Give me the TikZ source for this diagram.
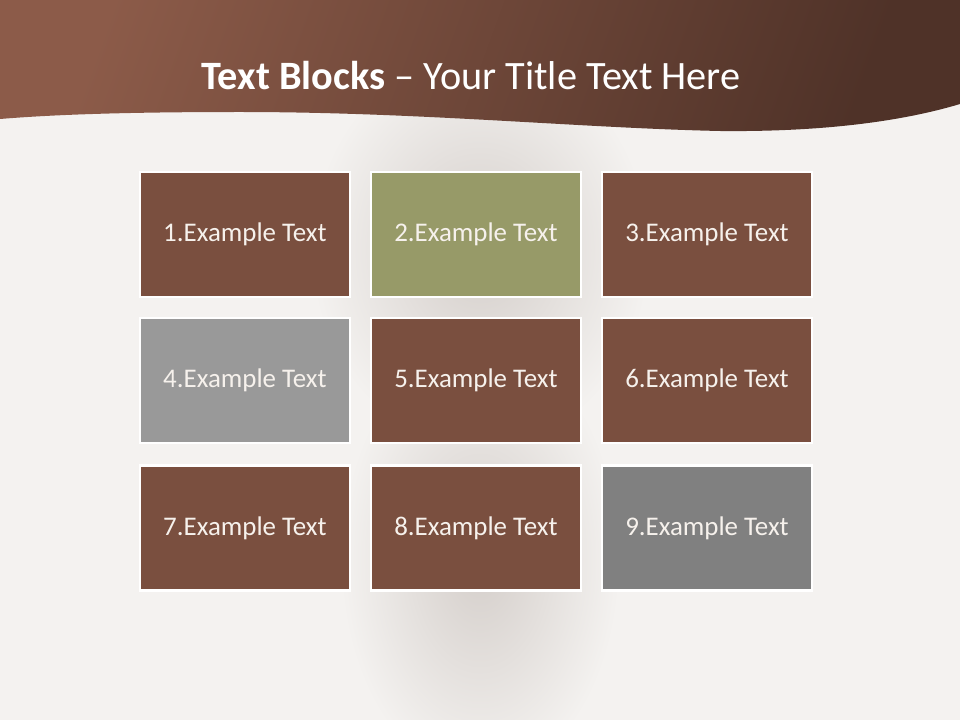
\documentclass[tikz,border=0pt]{standalone}
\usepackage{fontspec}
\setmainfont{Carlito}
\usetikzlibrary{shadings}
\definecolor{bg}{HTML}{F4F2F0}
\definecolor{bandL}{HTML}{8C5B49}
\definecolor{bandR}{HTML}{4F3228}
\definecolor{boxbrown}{HTML}{7A4F3F}
\definecolor{boxolive}{HTML}{979A68}
\definecolor{boxgreyA}{HTML}{999999}
\definecolor{boxgreyB}{HTML}{808080}
\definecolor{txt}{HTML}{F6F1EC}
\definecolor{shade}{HTML}{D4CECA}
\tikzset{
  blk/.style={draw=white, line width=2pt, minimum width=157.5pt, minimum height=93.75pt,
    inner sep=0pt, text=txt, font=\fontsize{20.2}{22}\selectfont},
}
\begin{document}
\begin{tikzpicture}[x=0.75pt,y=-0.75pt]
\useasboundingbox (0,0) rectangle (960,720);
\fill[bg] (0,0) rectangle (960,720);
% soft central shadow
\shade[inner color=shade, outer color=bg] (480,250) ellipse (170 and 200);
\shade[inner color=shade, outer color=bg] (480,560) ellipse (140 and 220);
% brown band
\shade[left color=bandL, right color=bandR, shading angle=70]
  (0,0) -- (960,0) -- (960,104)
  .. controls (900,122) and (820,132) .. (720,131)
  .. controls (580,128) and (420,112) .. (240,112)
  .. controls (140,112) and (60,114) .. (0,119) -- cycle;
\node[text=white, font=\fontsize{30.2}{33}\selectfont] (title) at (471,76)
  {\textbf{Text Blocks} – Your Title Text Here};
% blocks
\node[blk, fill=boxbrown] (b1) at (245,234.5) {1.Example Text};
\node[blk, fill=boxolive] (b2) at (476,234.5) {2.Example Text};
\node[blk, fill=boxbrown] (b3) at (707,234.5) {3.Example Text};
\node[blk, fill=boxgreyA] (b4) at (245,380.5) {4.Example Text};
\node[blk, fill=boxbrown] (b5) at (476,380.5) {5.Example Text};
\node[blk, fill=boxbrown] (b6) at (707,380.5) {6.Example Text};
\node[blk, fill=boxbrown] (b7) at (245,528) {7.Example Text};
\node[blk, fill=boxbrown] (b8) at (476,528) {8.Example Text};
\node[blk, fill=boxgreyB] (b9) at (707,528) {9.Example Text};
\end{tikzpicture}
\end{document}
